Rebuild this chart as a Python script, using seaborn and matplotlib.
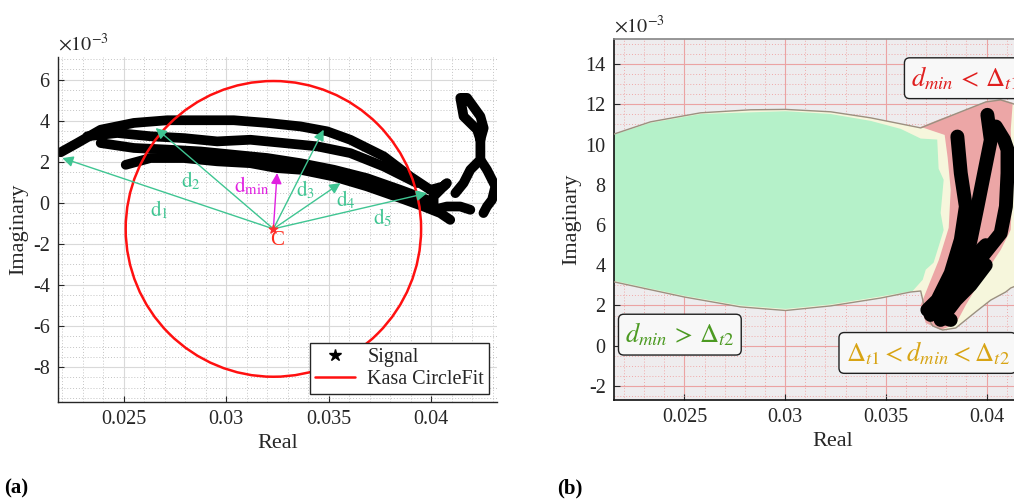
import numpy as np
import pandas as pd
import matplotlib
matplotlib.use("Agg")
import matplotlib.pyplot as plt
import seaborn as sns
from matplotlib.patches import Ellipse, Polygon
from matplotlib.lines import Line2D
from matplotlib.ticker import MultipleLocator, FuncFormatter

sns.set_theme(style="white")
plt.rcParams['font.family'] = ['Liberation Serif', 'DejaVu Serif']
plt.rcParams['mathtext.fontset'] = 'stix'
plt.rcParams['axes.unicode_minus'] = False

# ---------------- Panel (a) data (imag in 1e-3 units) ----------------
s1_re = [0.02193, 0.02274, 0.02388, 0.0255, 0.02713, 0.02875, 0.03037, 0.0320, 0.03362, 0.03492, 0.03605, 0.03768, 0.03897, 0.03995]
s1_im = [2.46, 2.91, 3.56, 3.89, 4.02, 4.02, 4.02, 3.89, 3.72, 3.48, 3.07, 2.26, 1.28, 0.63]
s2_re = [0.02323, 0.02469, 0.02631, 0.02794, 0.02956, 0.03118, 0.03281, 0.03443, 0.03605, 0.03768, 0.0393]
s2_im = [3.24, 3.40, 3.24, 3.15, 2.99, 3.07, 2.91, 2.75, 2.42, 1.77, 0.96]
s3_re = [0.02388, 0.0255, 0.02713, 0.02875, 0.03037, 0.0320, 0.03362, 0.03524, 0.03686, 0.03849, 0.03978]
s3_im = [2.91, 2.67, 2.59, 2.50, 2.34, 2.18, 1.93, 1.61, 1.20, 0.63, 0.15]
s4_re = [0.0251, 0.02631, 0.02794, 0.02956, 0.03118, 0.03248, 0.03362, 0.03524, 0.03686, 0.03849, 0.03962, 0.04043, 0.04092]
s4_im = [1.85, 2.18, 2.18, 2.02, 1.93, 1.69, 1.61, 1.28, 0.80, 0.23, -0.18, -0.50, -0.83]
tail_re = [0.03995, 0.04059, 0.04076, 0.04011, 0.04011, 0.04076, 0.04141, 0.04190]
tail_im = [0.63, 0.80, 0.96, 0.31, -0.34, -0.18, -0.18, -0.34]
loop_re = [0.04117, 0.04157, 0.04190, 0.04239, 0.04239, 0.04223, 0.04157, 0.04141, 0.04174, 0.04239, 0.04255, 0.04239]
loop_im = [0.47, 0.96, 1.61, 2.10, 3.07, 3.56, 4.21, 5.11, 5.11, 4.21, 3.64, 3.07]
branch_re = [0.04239, 0.04271, 0.04312, 0.04296, 0.04271, 0.04254]
branch_im = [2.10, 1.61, 0.80, 0.15, -0.18, -0.50]
strands_a = [(s1_re, s1_im), (s2_re, s2_im), (s3_re, s3_im), (s4_re, s4_im),
             (tail_re, tail_im), (loop_re, loop_im), (branch_re, branch_im)]

center_re, center_im = 0.0323, -1.27
radius_re, radius_im = 0.0072, 7.2

d_labels = ['$\\mathrm{d}_\\mathrm{1}$', '$\\mathrm{d}_\\mathrm{2}$', '$\\mathrm{d}_\\mathrm{3}$',
            '$\\mathrm{d}_\\mathrm{4}$', '$\\mathrm{d}_\\mathrm{5}$']
d_end_re = [0.02201, 0.02656, 0.03475, 0.03557, 0.03979]
d_end_im = [2.18, 3.64, 3.56, 0.96, 0.47]
d_lab_re = [0.02672, 0.02826, 0.03386, 0.03581, 0.0376]
d_lab_im = [-0.34, 1.04, 0.63, 0.15, -0.75]
dmin_end = (0.03248, 1.45)
dmin_lab = (0.03126, 0.80)

# ---------------- Panel (b) data ----------------
lens_top_re = [0.0205, 0.02152, 0.02331, 0.0258, 0.02828, 0.03002, 0.03226, 0.03424, 0.03574, 0.03673,
               0.03772, 0.03872, 0.03996, 0.0407, 0.04135, 0.0422, 0.0432]
lens_top_im = [10.1, 10.53, 11.13, 11.58, 11.73, 11.75, 11.63, 11.33, 11.03, 10.83,
               11.23, 11.63, 12.12, 12.22, 12.02, 11.5, 10.5]
lens_bot_re = [0.0205, 0.02152, 0.025, 0.02778, 0.03002, 0.03226, 0.03474, 0.03623, 0.03673, 0.03683,
               0.03698, 0.03733, 0.03782, 0.03847, 0.03946, 0.04021, 0.04095, 0.0412, 0.0422, 0.0432]
lens_bot_im = [3.4, 3.17, 2.42, 1.93, 1.75, 1.98, 2.37, 2.67, 2.72, 2.28,
               1.53, 0.98, 0.78, 0.88, 1.68, 2.27, 2.67, 2.87, 3.27, 3.6]
green_re = [0.0205, 0.02152, 0.02331, 0.0258, 0.03002, 0.03226, 0.03424, 0.03574, 0.03673, 0.03755, 0.03762,
            0.03787, 0.03772, 0.03787, 0.03762, 0.03737, 0.03698, 0.03683, 0.03633, 0.03474, 0.03226,
            0.03002, 0.02778, 0.025, 0.02152, 0.0205]
green_im = [10.1, 10.5, 11.08, 11.52, 11.66, 11.52, 11.18, 10.78, 10.3, 10.25, 8.8,
            8.25, 6.6, 5.75, 4.93, 4.13, 3.78, 3.28, 2.72, 2.45, 2.05,
            1.83, 2.0, 2.48, 3.22, 3.45]
red_re = [0.03673, 0.03772, 0.03872, 0.04006, 0.04085, 0.0413, 0.0412, 0.0413, 0.0412, 0.0407, 0.03971,
          0.03897, 0.03847, 0.03772, 0.03698, 0.03673, 0.03713, 0.03763, 0.03812, 0.03822, 0.03807, 0.03792]
red_im = [10.88, 11.28, 11.63, 12.18, 12.22, 12.07, 10.74, 8.24, 5.76, 4.76, 3.27,
          2.02, 1.08, 0.78, 1.13, 2.02, 3.02, 4.26, 5.86, 7.75, 9.34, 10.48]
bA_re = [0.03855, 0.03872, 0.03897, 0.03872, 0.03822, 0.03756, 0.03706, 0.03773, 0.03822]
bA_im = [10.4, 8.58, 6.92, 5.26, 3.6, 2.27, 1.78, 1.44, 1.28]
bB_re = [0.04004, 0.04021, 0.03988, 0.03955, 0.03921, 0.03888, 0.03838, 0.0379]
bB_im = [11.48, 10.23, 8.58, 6.92, 5.26, 3.93, 2.61, 1.9]
bC_re = [0.04046, 0.04087, 0.04104, 0.04104, 0.04096, 0.0407, 0.04004, 0.03938, 0.03888, 0.03822]
bC_im = [10.9, 10.23, 9.74, 8.58, 6.92, 5.59, 4.76, 3.93, 2.77, 2.11]
bD_re = [0.03722, 0.03797, 0.03872, 0.03946, 0.03996]
bD_im = [1.53, 2.77, 3.77, 4.51, 5.0]
bE_re = [0.03772, 0.03847, 0.03921, 0.03996]
bE_im = [1.28, 2.27, 3.02, 4.01]
strands_b = [(bA_re, bA_im), (bB_re, bB_im), (bC_re, bC_im), (bD_re, bD_im), (bE_re, bE_im)]

xticks = [0.025, 0.03, 0.035, 0.04]
xtick_labels = ['0.025', '0.03', '0.035', '0.04']

# ---------------- Figure ----------------
fig = plt.figure(figsize=(10.14, 4.99), dpi=100)
axA = fig.add_axes([58/1014, 1-402/499, (497-58)/1014, (402-57)/499])
axB = fig.add_axes([614/1014, 1-400/499, (1051-614)/1014, (400-39)/499])

ink = '#262626'

def style_axes(ax, grid_major, grid_minor, ymin_step):
    ax.set_xticks(xticks)
    ax.set_xticklabels(xtick_labels)
    ax.xaxis.set_minor_locator(MultipleLocator(0.001))
    ax.yaxis.set_major_locator(MultipleLocator(2))
    ax.yaxis.set_minor_locator(MultipleLocator(ymin_step))
    ax.yaxis.set_major_formatter(FuncFormatter(lambda v, p: f'{v:g}'))
    ax.grid(True, which='major', color=grid_major, lw=0.8, ls='-')
    ax.grid(True, which='minor', color=grid_minor, lw=0.7, ls=(0, (1, 2)))
    ax.set_axisbelow(True)
    ax.tick_params(axis='both', which='major', direction='in', length=4, width=0.8,
                   labelsize=14.5, colors=ink, pad=6, bottom=True, left=True)
    ax.tick_params(axis='both', which='minor', length=0)
    ax.set_xlabel('Real', fontsize=16, color=ink, labelpad=3)
    ax.set_ylabel('Imaginary', fontsize=16, color=ink, labelpad=3)
    ax.text(0.0, 1.005, r'$\times10^{-3}$', transform=ax.transAxes, fontsize=14.5,
            color=ink, ha='left', va='bottom')

# ---- Panel (a)
axA.set_facecolor('white')
for re, im in strands_a:
    sns.lineplot(x=re, y=im, sort=False, estimator=None, color='black', lw=7,
                 solid_capstyle='round', solid_joinstyle='round', ax=axA, legend=False)
axA.add_patch(Ellipse((center_re, center_im), 2*radius_re, 2*radius_im, fill=False,
                      ec='#ff1010', lw=1.8, zorder=4))
green = '#3fc592'
for i in range(5):
    axA.annotate('', xy=(d_end_re[i], d_end_im[i]), xytext=(center_re, center_im),
                 arrowprops=dict(arrowstyle='-|>', color=green, lw=1.0, mutation_scale=16,
                                 shrinkA=0, shrinkB=0), zorder=5)
    axA.text(d_lab_re[i], d_lab_im[i], d_labels[i], color=green, fontsize=15,
             ha='center', va='center', zorder=6)
axA.annotate('', xy=dmin_end, xytext=(center_re, center_im),
             arrowprops=dict(arrowstyle='-|>', color='#e020e0', lw=1.0, mutation_scale=16,
                             shrinkA=0, shrinkB=0), zorder=5)
axA.text(dmin_lab[0], dmin_lab[1], r'$\mathrm{d}_\mathrm{min}$', color='#e020e0', fontsize=15,
         ha='center', va='center', zorder=6)
axA.scatter([center_re], [center_im], marker='*', s=40, color='#ff3030', zorder=7)
axA.text(center_re + 0.0002, center_im - 0.55, 'C', color='#ff2a1a', fontsize=15,
         ha='center', va='center', zorder=6)

axA.set_xlim(0.0218, 0.0432)
axA.set_ylim(-9.7, 7.1)
style_axes(axA, '#d9d9d9', '#c4c4c4', 0.5)
for side in ['top', 'right']:
    axA.spines[side].set_visible(False)
for side in ['left', 'bottom']:
    axA.spines[side].set_color(ink)
    axA.spines[side].set_linewidth(1.0)
handles = [Line2D([], [], marker='*', color='black', ls='none', markersize=9),
           Line2D([], [], color='#ff1010', lw=1.8)]
leg = axA.legend(handles, ['Signal', 'Kasa CircleFit'], loc='lower right', fontsize=14.5,
                 frameon=True, fancybox=False, edgecolor=ink, framealpha=1,
                 borderaxespad=0.4, handlelength=2.0, borderpad=0.25, labelspacing=0.15,
                 handletextpad=0.6)
leg.get_frame().set_linewidth(1.0)

# ---- Panel (b)
axB.set_facecolor('#eeecee')
axB.add_patch(Polygon(np.column_stack([lens_top_re + lens_bot_re[::-1], lens_top_im + lens_bot_im[::-1]]),
                      closed=True, fc='#f6f6dc', ec='none', zorder=1))
axB.add_patch(Polygon(np.column_stack([green_re, green_im]), closed=True, fc='#b5f1c9', ec='none', zorder=2))
axB.add_patch(Polygon(np.column_stack([red_re, red_im]), closed=True, fc='#eca6a6', ec='none', zorder=2))
sns.lineplot(x=lens_top_re, y=lens_top_im, sort=False, estimator=None, color='#9b9080', lw=1.0, ax=axB,
             legend=False, zorder=3)
sns.lineplot(x=lens_bot_re, y=lens_bot_im, sort=False, estimator=None, color='#9b9080', lw=1.0, ax=axB,
             legend=False, zorder=3)
for re, im in strands_b:
    sns.lineplot(x=re, y=im, sort=False, estimator=None, color='black', lw=10,
                 solid_capstyle='round', solid_joinstyle='round', ax=axB, legend=False, zorder=4)

box = dict(boxstyle='round,pad=0.25,rounding_size=0.2', fc='#f8f8f8', ec='#202020', lw=1.0)
axB.text(0.03625, 13.3, r'$d_{min}\,<\,\Delta_{t1}$', color='#e01e1e', fontsize=19, ha='left',
         va='center', bbox=box, zorder=6)
axB.text(0.02205, 0.55, r'$d_{min}\,>\,\Delta_{t2}$', color='#4c9a22', fontsize=19, ha='left',
         va='center', bbox=box, zorder=6)
axB.text(0.03300, -0.36, r'$\Delta_{t1}<d_{min}<\Delta_{t2}$', color='#d8a414', fontsize=19,
         ha='left', va='center', bbox=box, zorder=6)

axB.set_xlim(0.0215, 0.0432)
axB.set_ylim(-2.7, 15.25)
style_axes(axB, '#eba3a3', '#eeaaaa', 0.5)
axB.spines['right'].set_visible(False)
axB.spines['top'].set_color('#8a8a8a')
for side in ['left', 'bottom']:
    axB.spines[side].set_color('#111111')
    axB.spines[side].set_linewidth(1.2)

fig.text(4/1014, 1-488/499, '(a)', fontsize=15, fontweight='bold', ha='left', va='center', color='black')
fig.text(557/1014, 1-488/499, '(b)', fontsize=15, fontweight='bold', ha='left', va='center', color='black')

fig.savefig('out.png', dpi=100)
